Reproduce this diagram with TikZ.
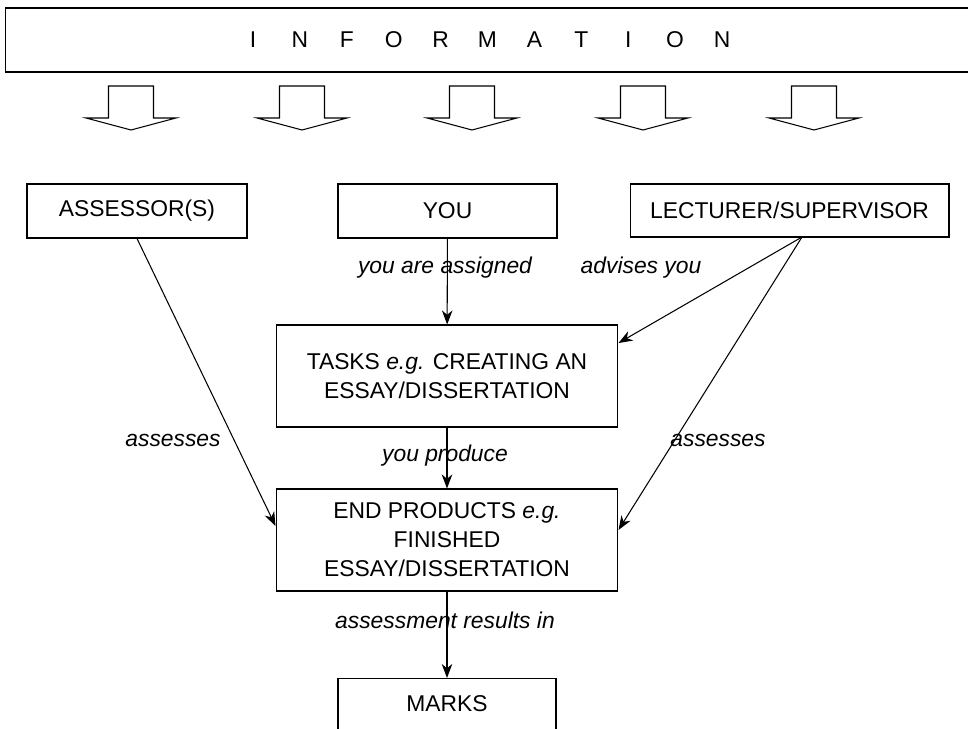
\documentclass[tikz,border=0pt]{standalone}
\usepackage{fontspec}
\setmainfont{Liberation Sans}
\usetikzlibrary{arrows.meta}

\newcommand{\diagfont}{\fontsize{13pt}{16.5pt}\selectfont}

\tikzset{
  box/.style={draw, line width=0.6pt, rectangle, align=center, inner sep=0pt, font=\diagfont},
  lbl/.style={font=\diagfont\itshape, inner sep=0pt},
  link/.style={line width=0.6pt, -{Stealth[length=8pt,width=6pt,inset=2.5pt]}},
  blockarrow/.style={line width=0.6pt}
}

\begin{document}
\begin{tikzpicture}[x=0.02cm, y=-0.02cm]
    % Page frame
    \useasboundingbox (0,0) rectangle (968,729);
    \fill[white] (0,0) rectangle (968,729);
    \clip (0,0) rectangle (968,729);

    % Information bar (runs off the right edge)
    \node[box, anchor=west, minimum width=20cm, minimum height=1.28cm] (info) at (5,40) {};
    \foreach \l [count=\i] in {I,N,F,O,R,M,A,T,I,O,N}
        \node[font=\diagfont, inner sep=0pt] (info\i) at ({253+(\i-1)*46.9},40) {\l};

    % Block arrows under the bar
    \foreach \x in {131,302,472,643,814}
        \draw[blockarrow] (\x-22.5,86) -- (\x+22.5,86) -- (\x+22.5,118) -- (\x+45,118)
            -- (\x,130) -- (\x-45,118) -- (\x-22.5,118) -- cycle;

    % Top row
    \node[box, minimum width=4.4cm, minimum height=1.08cm] (assessor) at (137,211) {ASSESSOR(S)};
    \node[box, minimum width=4.38cm, minimum height=1.08cm] (you) at (447.5,211) {YOU};
    \node[box, minimum width=6.38cm, minimum height=1.06cm] (lecturer) at (789.5,210.5) {LECTURER/SUPERVISOR};

    % Middle boxes
    \node[box, minimum width=6.84cm, minimum height=2.04cm] (tasks) at (447,376)
        {TASKS \textit{e.g.} CREATING AN\\ESSAY/DISSERTATION};
    \node[box, minimum width=6.84cm, minimum height=2.04cm] (endprod) at (447,540)
        {END PRODUCTS \textit{e.g.}\\FINISHED\\ESSAY/DISSERTATION};

    % Bottom box, cut by the page edge
    \node[box, anchor=north, minimum width=4.36cm, text height=0.5cm, text depth=1.2cm,
        inner ysep=0.15cm] (marks) at (447,678) {MARKS};

    % Connectors
    \coordinate (lecfoot) at (802,237);
    \draw[link] (you) -- (tasks);
    \draw[link] (tasks) -- (endprod);
    \draw[link] (endprod) -- (marks);
    \draw[link] (assessor.south) -- ([yshift=0.28cm]endprod.west);
    \draw[link] (lecfoot) -- ([yshift=0.66cm]tasks.east);
    \draw[link] (lecfoot) -- ([yshift=0.2cm]endprod.east);

    % Connector labels
    \node[lbl] (lAssigned) at (445,268) {you are assigned};
    \node[lbl] (lAdvises) at (641,268) {advises you};
    \node[lbl] (lProduce) at (445,456) {you produce};
    \node[lbl] (lAssessL) at (173,440) {assesses};
    \node[lbl] (lAssessR) at (718,440) {assesses};
    \node[lbl] (lResults) at (445,620) {assessment results in};
\end{tikzpicture}
\end{document}
